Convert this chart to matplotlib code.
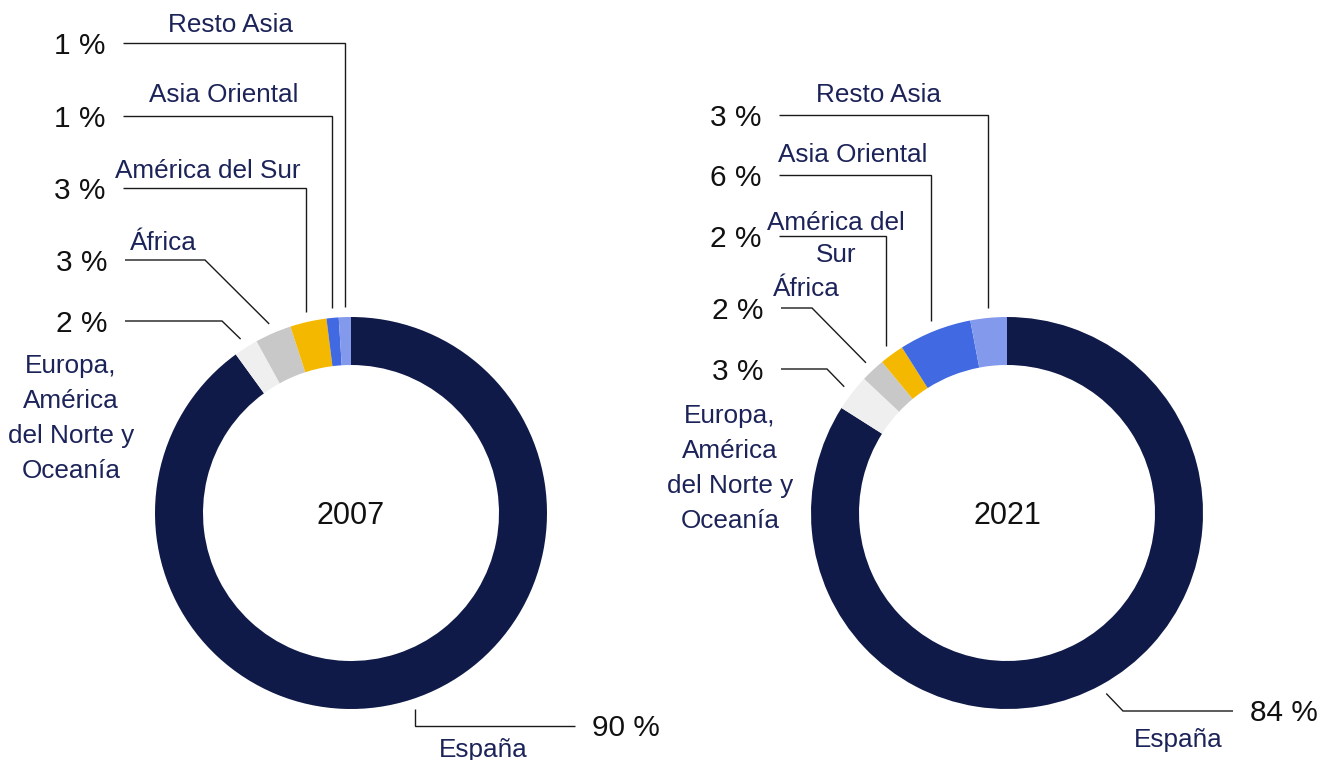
import matplotlib
matplotlib.use("Agg")
import matplotlib.pyplot as plt
import numpy as np

plt.rcParams['font.family'] = ['Liberation Sans', 'DejaVu Sans']

# ---------------- data ----------------
regions = ["España", "Europa, América del Norte y Oceanía", "África",
           "América del Sur", "Asia Oriental", "Resto Asia"]
values_2007 = [90, 2, 3, 3, 1, 1]
values_2021 = [84, 3, 2, 2, 6, 3]
years = ["2007", "2021"]
colors = ["#0f1a48", "#efefef", "#c8c8c8", "#f5b800", "#4169e1", "#8399ec"]

# label texts (wrapped as in the reference)
labels_2007 = ["España", "Europa,\nAmérica\ndel Norte y\nOceanía", "África",
               "América del Sur", "Asia Oriental", "Resto Asia"]
labels_2021 = ["España", "Europa,\nAmérica\ndel Norte y\nOceanía", "África",
               "América del\nSur", "Asia Oriental", "Resto Asia"]

# ---------------- layout (pixels, top-left origin) ----------------
W, H = 1340, 760
R_OUT, RING = 196, 48
R_ANCHOR = 206
LINE_C = "#1a1a1a"
LABEL_C = "#1c2358"
PCT_C = "#111111"

# per region: (kind, line y, elbow x or None, end x, label center x, label first-line y, line spacing)
layout_2007 = {
    "center": (351, 513),
    "items": [
        ("espana_v", 726, None, 575, 483, 747, 35),
        ("diag", 321, 222, 125, 71, 364, 35),
        ("diag", 260, 205, 125, 163, 240, 35),
        ("vert", 188, None, 123, 208, 168, 35),
        ("vert", 116, None, 123, 224, 93, 35),
        ("vert", 43, None, 123, 230, 23, 35),
    ],
}
layout_2021 = {
    "center": (1007, 513),
    "items": [
        ("espana_d", 711, 1123, 1233, 1178, 738, 35),
        ("diag", 369, 827, 781, 730, 413, 35),
        ("diag", 308, 812, 781, 806, 287, 35),
        ("vert", 236, None, 779, 836, 221, 32),
        ("vert", 175, None, 779, 853, 152, 35),
        ("vert", 115, None, 779, 878, 93, 35),
    ],
}


def Y(p):
    return H - p


fig = plt.figure(figsize=(W / 100, H / 100), dpi=100)
ax = fig.add_axes([0, 0, 1, 1])

PCT_FS = 21.5
LAB_FS = 18.8
YEAR_FS = 22

for vals, labs, year, lay in [(values_2007, labels_2007, years[0], layout_2007),
                              (values_2021, labels_2021, years[1], layout_2021)]:
    cx, cy = lay["center"]
    wedges, _ = ax.pie(vals, colors=colors, startangle=90, counterclock=False,
                       center=(cx, Y(cy)), radius=R_OUT,
                       wedgeprops=dict(width=RING, linewidth=0, antialiased=True))
    ax.text(cx, Y(cy + 11), year, ha="center", va="baseline",
            fontsize=YEAR_FS, color=PCT_C)

    for w, v, lab, item in zip(wedges, vals, labs, lay["items"]):
        kind, ly, ex, xend, lx, lyt, sp = item
        mid = np.deg2rad((w.theta1 + w.theta2) / 2)
        axp = cx + R_ANCHOR * np.cos(mid)
        ayp = cy - R_ANCHOR * np.sin(mid)
        if kind in ("vert", "espana_v"):
            pts = [(axp, ayp), (axp, ly), (xend, ly)]
        else:
            pts = [(axp, ayp), (ex, ly), (xend, ly)]
        xs = [p[0] for p in pts]
        ys = [Y(p[1]) for p in pts]
        ax.plot(xs, ys, color=LINE_C, lw=1.0, solid_capstyle="butt",
                solid_joinstyle="miter")
        pct = f"{v} %"
        if kind.startswith("espana"):
            ax.text(xend + 17, Y(ly + 10), pct, ha="left", va="baseline",
                    fontsize=PCT_FS, color=PCT_C)
        else:
            ax.text(xend - 17, Y(ly + 11), pct, ha="right", va="baseline",
                    fontsize=PCT_FS, color=PCT_C)
        for k, line in enumerate(lab.split("\n")):
            ax.text(lx, Y(lyt + k * sp + 9.5), line, ha="center", va="baseline",
                    fontsize=LAB_FS, color=LABEL_C)

ax.set_xlim(0, W)
ax.set_ylim(0, H)
ax.set_aspect("equal")
ax.set_axis_off()

fig.savefig("out.png", dpi=100, facecolor="white")
